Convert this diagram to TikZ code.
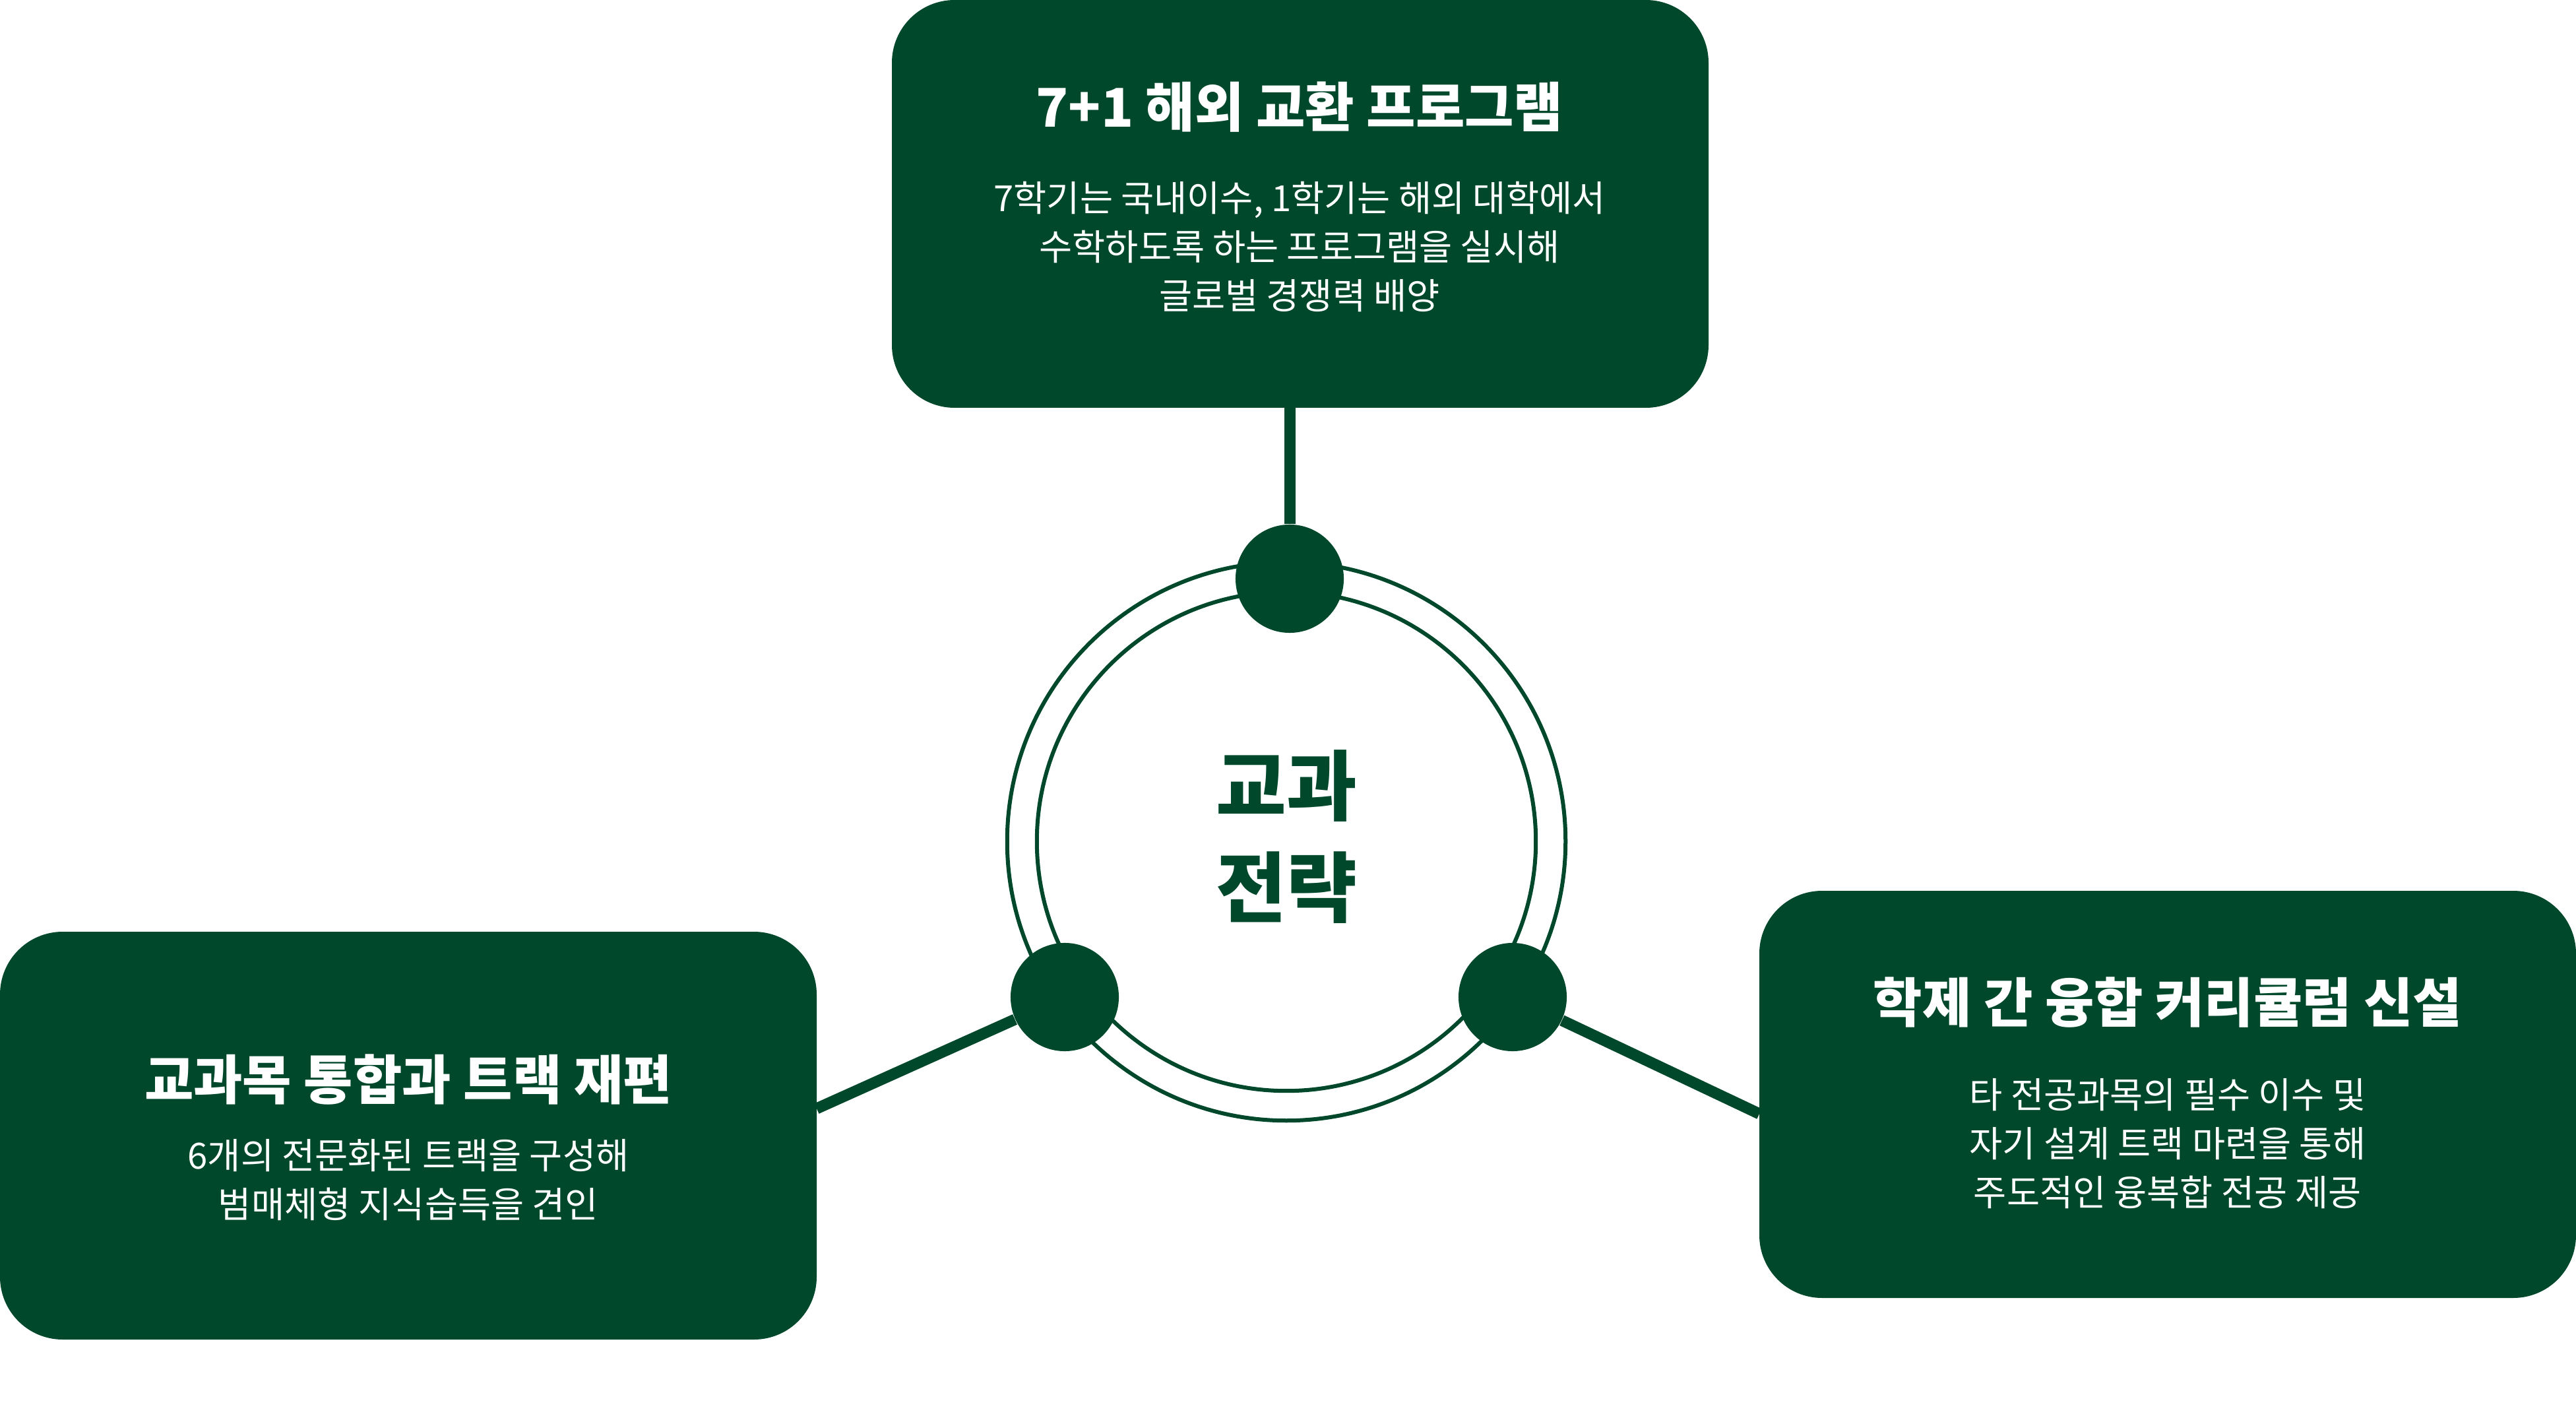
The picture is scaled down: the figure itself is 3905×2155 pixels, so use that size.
\documentclass[tikz,border=0pt]{standalone}
\usepackage{fontspec}
\setmainfont{Noto Sans CJK KR}
\definecolor{dg}{HTML}{00482C}
\begin{document}
\begin{tikzpicture}[x=0.01cm,y=-0.01cm,
  box/.style={fill=dg,rounded corners=0.95cm},
  title/.style={text=white,font=\fontsize{23}{28}\selectfont\bfseries,align=center},
  body/.style={text=white,font=\fontsize{15.5}{21}\selectfont,align=center},
  conn/.style={draw=dg,line width=0.17cm},
  dot/.style={circle,fill=dg,minimum size=1.64cm,inner sep=0pt}]
\useasboundingbox (0,0) rectangle (3905,2155);
\node (c) at (1950,1275) {};
\draw[dg,line width=0.06cm] (1950,1275) circle (4.23cm);
\draw[dg,line width=0.06cm] (1950,1275) circle (3.78cm);
\node[font=\fontsize{33}{44}\selectfont\bfseries,text=dg,align=center] (ct) at (1950,1268) {교과\\전략};
\fill[box] (1352,0) rectangle (2590,618); \node (tb) at (1955,618) {};
\fill[box] (0,1412) rectangle (1238,2030); \node (lb) at (1238,1680) {};
\fill[box] (2667,1350) rectangle (3905,1967); \node (rb) at (2667,1688) {};
\node[dot] (d1) at (1955,877) {};
\node[dot] (d2) at (1614,1511) {};
\node[dot] (d3) at (2293,1511) {};
\draw[conn] (tb.center) -- (d1);
\draw[conn] (lb.center) -- (d2);
\draw[conn] (rb.center) -- (d3);
\node[title] (t1) at (1970,162) {7+1 해외 교환 프로그램};
\node[body] (b1) at (1970,374) {7학기는 국내이수, 1학기는 해외 대학에서\\수학하도록 하는 프로그램을 실시해\\글로벌 경쟁력 배양};
\node[title] (t2) at (619,1636) {교과목 통합과 트랙 재편};
\node[body] (b2) at (619,1788) {6개의 전문화된 트랙을 구성해\\범매체형 지식습득을 견인};
\node[title] (t3) at (3286,1519) {학제 간 융합 커리큘럼 신설};
\node[body] (b3) at (3286,1733) {타 전공과목의 필수 이수 및\\자기 설계 트랙 마련을 통해\\주도적인 융복합 전공 제공};
\end{tikzpicture}
\end{document}
